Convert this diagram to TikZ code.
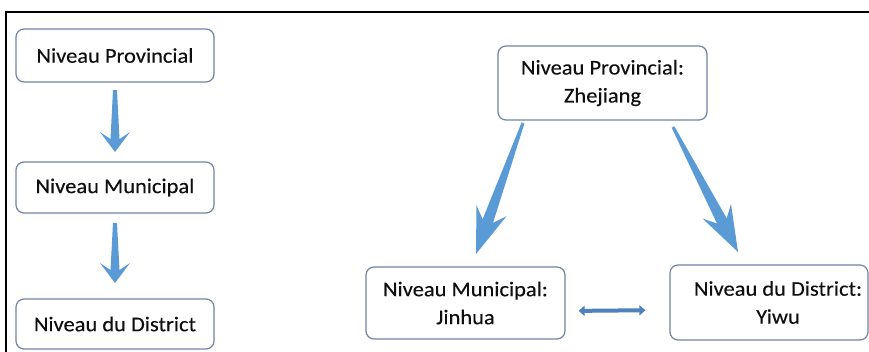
\documentclass[tikz,border=0pt]{standalone}
\usepackage{fontspec}
\setmainfont[FakeStretch=1.07,FakeBold=0.2]{Carlito}
\usetikzlibrary{calc,arrows.meta}
\definecolor{boxc}{RGB}{112,132,165}
\definecolor{arrc}{RGB}{91,155,213}
\definecolor{dblc}{RGB}{79,129,189}
\definecolor{txtc}{RGB}{15,15,15}
\tikzset{
  box/.style={draw=boxc, line width=1.2pt, rounded corners=8pt, inner sep=0pt,
    align=center, text=txtc, font=\fontsize{21}{28}\selectfont},
  lbl/.style={inner sep=0pt, align=center, text=txtc, font=\fontsize{21}{28}\selectfont},
  frame/.style={draw=black, line width=2pt},
  dbl/.style={draw=dblc, line width=4pt, {Triangle[length=6pt,width=10pt]}-{Triangle[length=6pt,width=10pt]}}
}
% tapered arrow: #1 tail, #2 tip, #3 tail half width, #4 shaft half width at notch,
% #5 wing half width, #6 wing distance from tip, #7 notch distance from tip
\newcommand{\taperarrow}[7]{%
  \fill[arrc]
    ($(#1)!#3!90:(#2)$) --
    ($(#2)!#7!(#1)!#4!-90:(#1)$) --
    ($(#2)!#6!(#1)!#5!-90:(#1)$) --
    (#2) --
    ($(#2)!#6!(#1)!#5!90:(#1)$) --
    ($(#2)!#7!(#1)!#4!90:(#1)$) --
    ($(#1)!#3!-90:(#2)$) -- cycle;}
\begin{document}
\begin{tikzpicture}[x=1pt,y=-1pt]
\useasboundingbox (0,0) rectangle (869,351);
\fill[white] (0,0) rectangle (869,351);
% frame
\coordinate (fr1) at (869,12);
\coordinate (fr2) at (6,12);
\coordinate (fr3) at (6,352);
\draw[frame] (fr1) -- (fr2) -- (fr3);
% left column
\node[box, minimum width=198pt, minimum height=53pt] (p1) at (115,55.5) {Niveau Provincial};
\node[box, minimum width=198pt, minimum height=51pt] (m1) at (115,187.5) {Niveau Municipal};
\node[box, minimum width=198pt, minimum height=50pt] (d1) at (115,324) {Niveau du District};
\coordinate (a1s) at (115,90);
\coordinate (a1e) at (115,152);
\coordinate (a2s) at (115,223);
\coordinate (a2e) at (115,283);
\taperarrow{a1s}{a1e}{2pt}{4.5pt}{15pt}{20pt}{13pt}
\taperarrow{a2s}{a2e}{2pt}{4.5pt}{15pt}{20pt}{13pt}
% right part
\node[box, minimum width=209pt, minimum height=74pt] (p2) at (602.5,83) {Niveau Provincial:\\Zhejiang};
\node[box, minimum width=199pt, minimum height=72pt] (m2) at (465.5,303) {Niveau Municipal:\\Jinhua};
\node[box, minimum width=198pt, minimum height=75pt] (d2) at (769,302.5) {};
\node[lbl] (d2t) at ([xshift=9pt]d2.center) {Niveau du District:\\Yiwu};
\coordinate (b1s) at (523,123);
\coordinate (b1e) at (476,254);
\coordinate (b2s) at (673,127);
\coordinate (b2e) at (738,252);
\taperarrow{b1s}{b1e}{1.5pt}{5.5pt}{16pt}{46pt}{35pt}
\taperarrow{b2s}{b2e}{1.5pt}{5.5pt}{16pt}{46pt}{35pt}
\draw[dbl, shorten <=13pt, shorten >=24pt] ([yshift=-8pt]m2.east) -- ([yshift=-7.5pt]d2.west);
\end{tikzpicture}
\end{document}
